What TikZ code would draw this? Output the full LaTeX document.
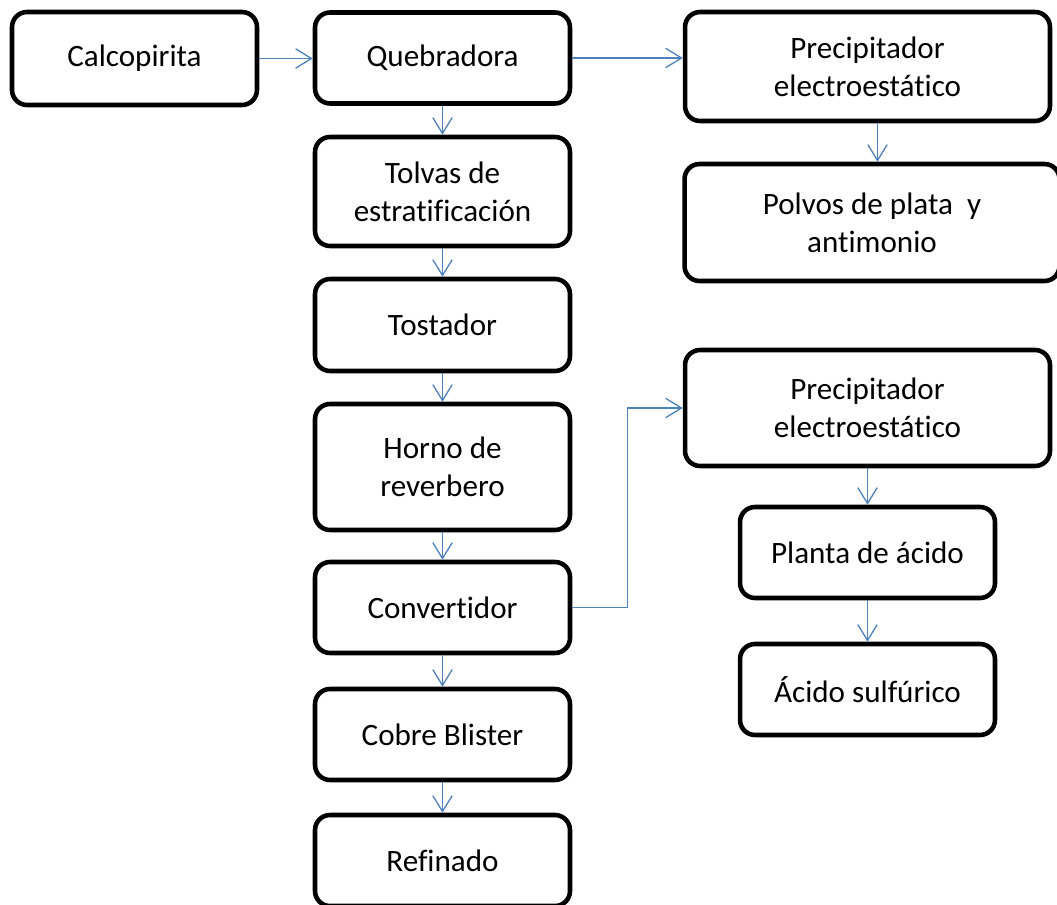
\documentclass[tikz,border=0pt]{standalone}
\usepackage{fontspec}
\setmainfont[Ligatures=CommonOff]{Carlito}
\usetikzlibrary{arrows.meta}
\definecolor{flowblue}{RGB}{79,129,189}
\tikzset{
  stage/.style = {
    draw, line width=2.6pt, rounded corners=0.3cm, fill=white,
    align=center, inner sep=2pt,
    minimum width=5.1cm, minimum height=1.82cm,
    font=\fontsize{17.7}{21.6}\selectfont
  },
  wide/.style = {stage, minimum width=7.3cm},
  flow/.style = {
    draw=flowblue, line width=0.75pt,
    -{Straight Barb[length=9pt,width=11pt]}
  }
}

\begin{document}
\begin{tikzpicture}[x=0.02cm,y=-0.02cm]
  \useasboundingbox (0,0) rectangle (1057,905);
  %
  \node[stage, minimum width=4.9cm, minimum height=1.86cm] (calc) at (134.5,58.5) {Calcopirita};
  \node[stage] (queb) at (442.5,58) {Quebradora};
  \node[wide, minimum height=2.18cm] (prec1) at (867.5,66.5) {Precipitador\\electroestático};
  \node[stage, minimum height=2.18cm] (tolvas) at (442.5,191.5) {Tolvas de\\estratificación};
  \node[wide, minimum width=7.5cm, minimum height=2.34cm] (polvos) at (872,222.5) {Polvos de plata\ \ y\\antimonio};
  \node[stage, minimum height=1.84cm] (tost) at (442.5,325) {Tostador};
  \node[wide, minimum height=2.32cm] (prec2) at (867.5,408) {Precipitador\\electroestático};
  \node[stage, minimum height=2.52cm] (horno) at (442.5,467) {Horno de\\reverbero};
  \node[stage] (planta) at (867.5,552.5) {Planta de ácido};
  \node[stage] (conv) at (442.5,607.5) {Convertidor};
  \node[stage] (acido) at (867.5,689.5) {Ácido sulfúrico};
  \node[stage] (cobre) at (442.5,734.5) {Cobre Blister};
  \node[stage] (ref) at (442.5,860.5) {Refinado};
  %
  \draw[flow] (calc.east) -- (calc.east -| queb.west);
  \draw[flow] (queb.east) -- (queb.east -| prec1.west);
  \draw[flow] ([xshift=0.2cm]prec1.south) -- ([xshift=0.2cm]prec1.south |- polvos.north);
  \foreach \a/\b in {queb/tolvas, tolvas/tost, tost/horno, horno/conv,
                     conv/cobre, cobre/ref, prec2/planta, planta/acido}
    \draw[flow] (\a) -- (\b);
  \draw[flow] (conv.east) -- ++(55,0) |- (prec2.west);
\end{tikzpicture}
\end{document}
